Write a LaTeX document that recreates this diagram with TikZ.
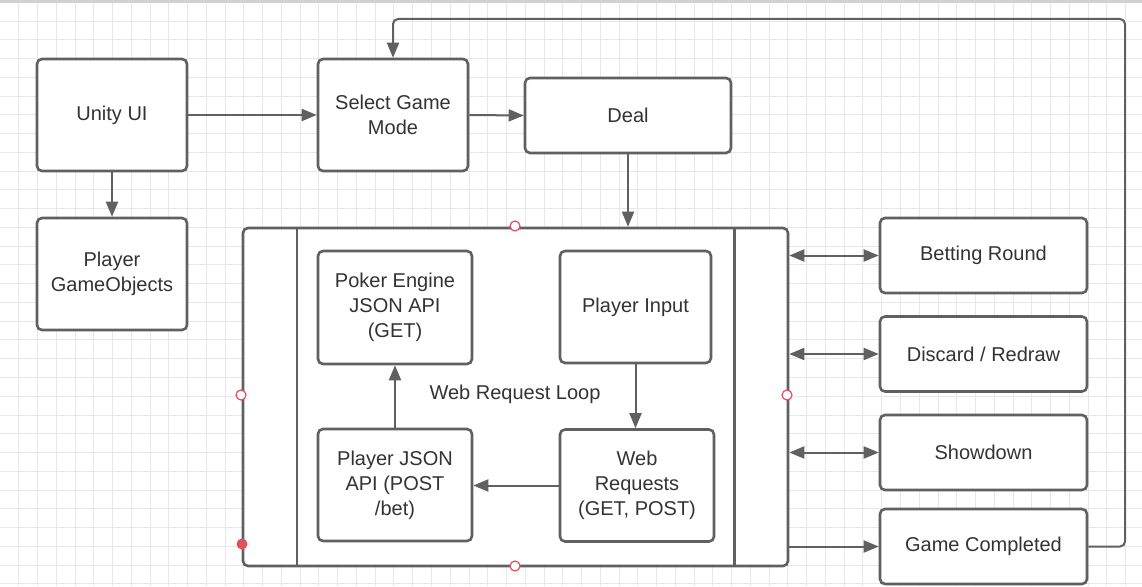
\documentclass[tikz,border=0pt]{standalone}
\usepackage{fontspec}
\setmainfont{Liberation Sans}
\usetikzlibrary{arrows.meta,calc}
\definecolor{edge}{HTML}{606060}
\definecolor{txt}{HTML}{333333}
\definecolor{gridc}{HTML}{E8E8E8}
\definecolor{handle}{HTML}{E0505F}
\tikzset{
  box/.style={draw=edge, line width=2.6pt, rounded corners=5pt, fill=white, text=txt,
    align=center, font=\fontsize{20}{25}\selectfont, inner sep=0pt},
  arr/.style={draw=edge, line width=2pt, -{Triangle[length=15pt,width=12pt]}},
  darr/.style={draw=edge, line width=2pt, {Triangle[length=15pt,width=12pt]}-{Triangle[length=15pt,width=12pt]}},
  hopen/.style={draw=handle, fill=white, line width=1.2pt, circle, minimum size=10pt, inner sep=0pt},
  hfull/.style={fill=handle, circle, minimum size=11pt, inner sep=0pt},
  lbl/.style={text=txt, font=\fontsize{20}{25}\selectfont}
}
\begin{document}
\begin{tikzpicture}[x=1pt,y=-1pt]
\useasboundingbox (0,0) rectangle (1142,586);
\fill[white] (0,0) rectangle (1142,586);
% grid
\foreach \i in {1,...,60} \draw[gridc, line width=1pt] (\i*18.76,0) -- (\i*18.76,586);
\foreach \j in {0,...,31} \draw[gridc, line width=1pt] (0,2.3+\j*18.76) -- (1142,2.3+\j*18.76);
\fill[gridc!90!black] (0,0) rectangle (1142,3);

% container
\node[box, minimum width=545pt, minimum height=338pt] (cont) at (515.5,397) {};
\draw[edge, line width=2.4pt] ($(cont.north west)+(55,0)$) -- ($(cont.south west)+(55,0)$);
\draw[edge, line width=2.4pt] ($(cont.north east)+(-55,0)$) -- ($(cont.south east)+(-55,0)$);

% top boxes
\node[box, minimum width=150pt, minimum height=112pt] (unity) at (112,115) {Unity UI};
\node[box, minimum width=150pt, minimum height=112pt] (pgo) at (112,274) {Player\\GameObjects};
\node[box, minimum width=150pt, minimum height=112pt] (select) at (393,115) {Select Game\\Mode};
\node[box, minimum width=206pt, minimum height=75pt] (deal) at (628,115.5) {Deal};

% inner boxes
\node[box, minimum width=154pt, minimum height=113pt] (poker) at (395,307.5) {Poker Engine\\JSON API\\(GET)};
\node[box, minimum width=151pt, minimum height=112pt] (pinput) at (635.5,307) {Player Input};
\node[box, minimum width=154pt, minimum height=112pt] (pjson) at (395,485) {Player JSON\\API (POST\\/bet)};
\node[box, minimum width=154pt, minimum height=112pt] (webreq) at (637,485.5) {Web\\Requests\\(GET, POST)};
\node[lbl] (loop) at (515,394) {Web Request Loop};

% right boxes
\node[box, minimum width=207pt, minimum height=75pt] (bet) at (983.5,255.5) {Betting Round};
\node[box, minimum width=207pt, minimum height=75pt] (disc) at (983.5,354) {Discard / Redraw};
\node[box, minimum width=207pt, minimum height=75pt] (show) at (983.5,452.5) {Showdown};
\node[box, minimum width=207pt, minimum height=75pt] (done) at (983.5,546.5) {Game Completed};

% connectors
\draw[arr] (unity.east) -- (select.west);
\draw[arr] (select.east) -- (deal.west);
\draw[arr] (unity.south) -- (pgo.north);
\draw[arr] (deal.south) -- (deal.south |- cont.north);
\draw[arr] (pinput.south) -- (pinput.south |- webreq.north);
\draw[arr] (webreq.west) -- (webreq.west -| pjson.east);
\draw[arr] (pjson.north) -- (poker.south);
\draw[darr] (cont.east |- bet.west) -- (bet.west);
\draw[darr] (cont.east |- disc.west) -- (disc.west);
\draw[darr] (cont.east |- show.west) -- (show.west);
\draw[arr] (cont.east |- done.west) -- (done.west);
\coordinate (loopR) at (1125,19);
\draw[arr, rounded corners=5pt] (done.east) -| (loopR) -| (select.north);

% selection handles
\node[hopen] (h1) at (515,226) {};
\node[hopen] (h2) at (241,395) {};
\node[hopen] (h3) at (787,395) {};
\node[hopen] (h4) at (515,566) {};
\node[hfull] (h5) at (242,544) {};
\end{tikzpicture}
\end{document}
